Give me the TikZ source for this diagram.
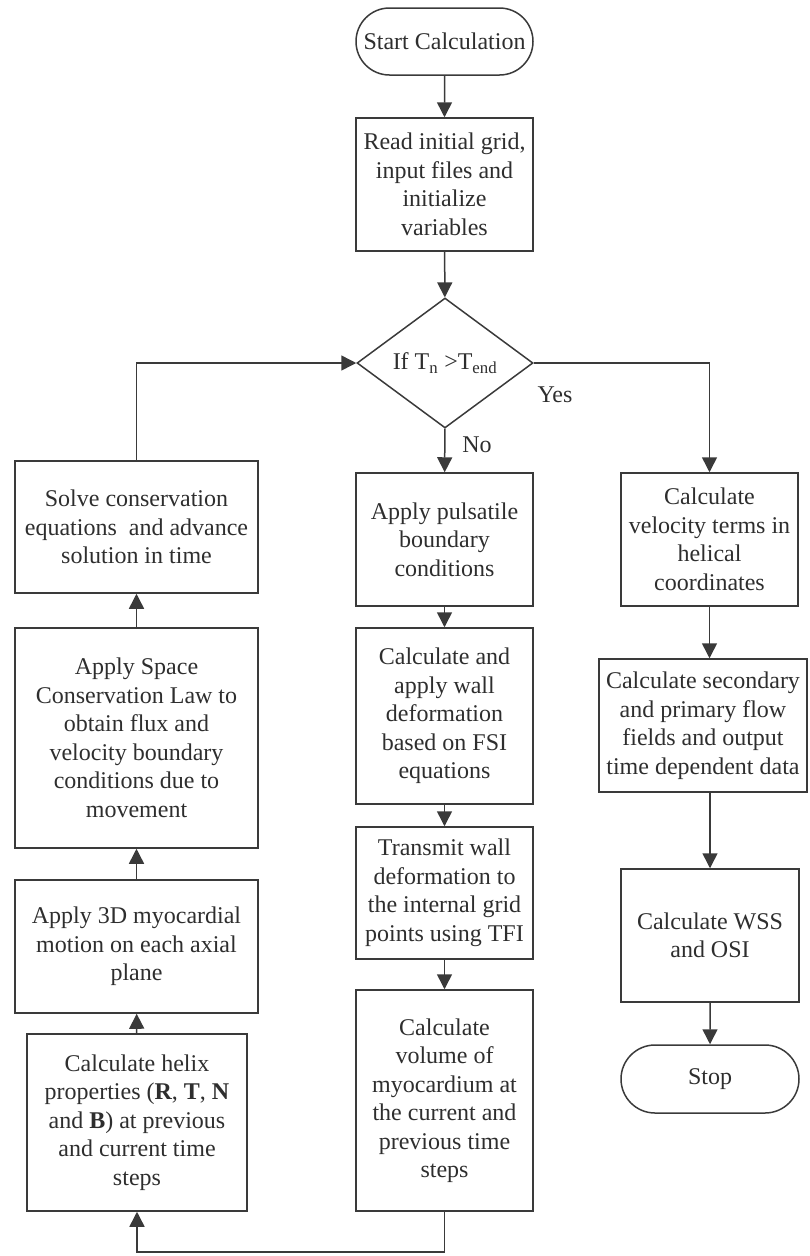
\documentclass[tikz,border=0pt]{standalone}
\usepackage{fontspec}
\setmainfont{Liberation Serif}
\usetikzlibrary{shapes.geometric,shapes.misc,arrows.meta}

\definecolor{ink}{HTML}{3A3A3A}
\definecolor{txt}{HTML}{2E2E2E}

\begin{document}
\begin{tikzpicture}[x=1pt,y=-1pt,
  every node/.style={font=\fontsize{24}{28.5}\selectfont, text=txt, align=center, inner sep=0pt},
  box/.style={draw=ink, line width=1.5pt, rectangle},
  term/.style={draw=ink, line width=1.5pt, rounded rectangle},
  cond/.style={draw=ink, line width=1.5pt, diamond},
  flow/.style={draw=ink, line width=1.5pt, -{Triangle[length=15pt,width=15pt]}},
  lbl/.style={text=txt}
]
\useasboundingbox (0,0) rectangle (809,1256);

% centre column
\node[term, minimum width=177pt, minimum height=67pt] (start) at (444.5,41.5) {Start Calculation};
\node[box, minimum width=177pt, minimum height=133pt] (read) at (444.5,184.5)
  {Read initial grid,\\ input files and\\ initialize\\ variables};
\node[cond, minimum width=176pt, minimum height=130pt] (dec) at (445,363)
  {If T\textsubscript{n} >T\textsubscript{end}};
\node[box, minimum width=177pt, minimum height=133pt] (puls) at (444.5,539.5)
  {Apply pulsatile\\ boundary\\ conditions};
\node[box, minimum width=177pt, minimum height=176pt] (wall) at (444.5,716)
  {Calculate and\\ apply wall\\ deformation\\ based on FSI\\ equations};
\node[box, minimum width=177pt, minimum height=132pt] (trans) at (444.5,893)
  {Transmit wall\\ deformation to\\ the internal grid\\ points using TFI};
\node[box, minimum width=177pt, minimum height=221pt] (vol) at (444.5,1100.5)
  {Calculate\\ volume of\\ myocardium at\\ the current and\\ previous time\\ steps};

% left column
\node[box, minimum width=243pt, minimum height=132pt] (solve) at (136.5,527)
  {Solve conservation\\ equations\ \ and advance\\ solution in time};
\node[box, minimum width=243pt, minimum height=220pt] (space) at (136.5,738)
  {Apply Space\\ Conservation Law to\\ obtain flux and\\ velocity boundary\\ conditions due to\\ movement};
\node[box, minimum width=243pt, minimum height=133pt] (motion) at (136.5,946.5)
  {Apply 3D myocardial\\ motion on each axial\\ plane};
\node[box, minimum width=220pt, minimum height=177pt] (helix) at (137,1122.5)
  {Calculate helix\\ properties (\textbf{R}, \textbf{T}, \textbf{N}\\ and \textbf{B}) at previous\\ and current time\\ steps};

% right column
\node[box, minimum width=177pt, minimum height=133pt] (vel) at (709.5,539.5)
  {Calculate\\ velocity terms in\\ helical\\ coordinates};
\node[box, minimum width=208pt, minimum height=133pt] (sec) at (703,725.5)
  {Calculate secondary\\ and primary flow\\ fields and output\\ time dependent data};
\node[box, minimum width=178pt, minimum height=133pt] (wss) at (710,935.5)
  {Calculate WSS\\ and OSI};
\node[term, minimum width=178pt, minimum height=68pt] (stop) at (710,1079) {Stop};

% branch labels
\node[lbl] (yes) at (555,395) {Yes};
\node[lbl] (no) at (477,445) {No};

% connectors
\draw[flow] (start) -- (read);
\draw[flow] (read) -- (dec);
\draw[flow] (dec) -- (puls);
\draw[flow] (puls) -- (wall);
\draw[flow] (wall) -- (trans);
\draw[flow] (trans) -- (vol);
\draw[flow] (vol.south) -- ++(0,40) -| (helix.south);
\draw[flow] (helix) -- (motion);
\draw[flow] (motion) -- (space);
\draw[flow] (space) -- (solve);
\draw[flow] (solve.north) |- (dec.west);
\draw[flow] (dec.east) -| (vel.north);
\draw[flow] (vel) -- (vel |- sec.north);
\draw[flow] (wss.north |- sec.south) -- (wss.north);
\draw[flow] (wss) -- (stop);
\end{tikzpicture}
\end{document}
